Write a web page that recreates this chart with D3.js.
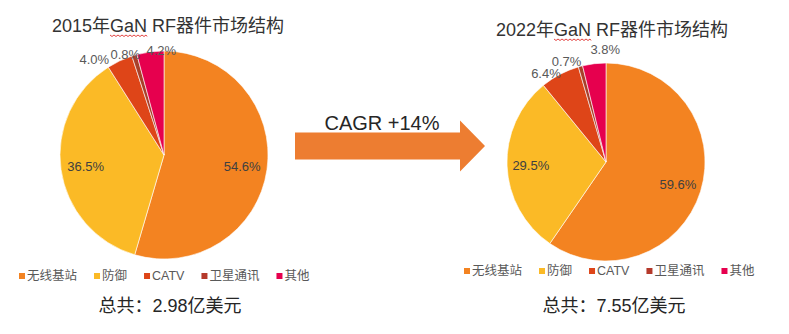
<!DOCTYPE html>
<html>
<head>
<meta charset="utf-8">
<script src="https://cdn.jsdelivr.net/npm/d3@7"></script>
<style>
  html, body { margin: 0; padding: 0; background: #fff; }
  svg { display: block; }
  text { font-family: "Liberation Sans", Arial, "Noto Sans CJK SC", sans-serif; }
</style>
</head>
<body>
<svg id="chart" width="789" height="334"></svg>
<script>
// ---- data ----
const categories = ["无线基站", "防御", "CATV", "卫星通讯", "其他"];
const values2015 = [54.6, 36.5, 4.0, 0.8, 4.2];
const values2022 = [59.6, 29.5, 6.4, 0.7, 3.8];
const titles = ["2015年GaN RF器件市场结构", "2022年GaN RF器件市场结构"];
const totals = ["总共：2.98亿美元", "总共：7.55亿美元"];
const cagrLabel = "CAGR +14%";

// ---- styles ----
const colors = ["#F38321", "#FBBA26", "#DE4518", "#A8402A", "#E6004E"];
const legendColors = ["#F38321", "#FBBA26", "#DE4518", "#B5392B", "#E6004E"];
const svg = d3.select("#chart");

const charts = [
  { values: values2015, cx: 164, cy: 155, r: 104, title: titles[0], titleX: 168, titleY: 32,
    legendX: 19, legendY: 280, total: totals[0], totalX: 170, totalY: 312, labelMode: "spread" },
  { values: values2022, cx: 606, cy: 162, r: 99, title: titles[1], titleX: 612, titleY: 36,
    legendX: 464, legendY: 275, total: totals[1], totalX: 614, totalY: 312, labelMode: "stack" }
];

const color = d3.scaleOrdinal().domain(categories).range(colors);
const legendColor = d3.scaleOrdinal().domain(categories).range(legendColors);
const pie = d3.pie().sort(null).value(d => d.value);

charts.forEach(c => {
  const data = categories.map((k, i) => ({ key: k, value: c.values[i] }));
  const arcs = pie(data);
  const arc = d3.arc().innerRadius(0).outerRadius(c.r);
  const g = svg.append("g").attr("transform", `translate(${c.cx},${c.cy})`);

  g.selectAll("path.slice").data(arcs).enter().append("path")
    .attr("class", "slice")
    .attr("d", arc)
    .attr("fill", d => color(d.data.key))
    .attr("stroke", "#fff")
    .attr("stroke-width", 0.6);

  // inside labels (large slices)
  const inArc = d3.arc().innerRadius(c.r * 0.76).outerRadius(c.r * 0.76);
  arcs.filter(d => d.data.value >= 10).forEach(d => {
    const [x, y] = inArc.centroid(d);
    g.append("text").attr("x", x).attr("y", y)
      .attr("text-anchor", "middle").attr("dominant-baseline", "central")
      .attr("font-size", 13).attr("fill", "#404040")
      .text(d.data.value.toFixed(1) + "%");
  });

  // outside labels (small slices)
  const small = arcs.filter(d => d.data.value < 10);
  const w = 30, h = 12;
  const pos = small.map(d => {
    const a = (d.startAngle + d.endAngle) / 2;
    return { d, x: Math.sin(a) * c.r, y: -Math.cos(a) * c.r - 1 };
  });
  const n = pos.length;
  if (c.labelMode === "spread") {
    // last one pushed right, earlier ones pushed left to avoid overlap
    pos[n - 1].x += 11;
    for (let j = n - 2; j >= 0; j--) {
      const p = pos[j], q = pos[j + 1];
      const gap = j === n - 2 ? 6 : 1;
      if (Math.abs(p.y - q.y) < h && p.x + w / 2 > q.x - w / 2 - gap) {
        p.x = q.x - w - gap;
      }
    }
  } else {
    // labels end at the slice edge (last starts there), stacked upward
    pos.forEach((p, j) => { p.x += j === n - 1 ? w / 2 - 4 : -w / 2 + 1; });
    for (let j = 1; j < n; j++) pos[j].y = Math.min(pos[j].y, pos[j - 1].y - h);
  }
  pos.forEach(p => {
    g.append("text").attr("x", p.x).attr("y", p.y)
      .attr("text-anchor", "middle").attr("dominant-baseline", "central")
      .attr("font-size", 13).attr("fill", "#595959")
      .text(p.d.data.value.toFixed(1) + "%");
  });

  // title with spell-check wave under GaN
  const t = svg.append("text").attr("x", c.titleX).attr("y", c.titleY)
    .attr("text-anchor", "middle").attr("font-size", 18).attr("fill", "#333")
    .text(c.title);
  const node = t.node();
  const gi = c.title.indexOf("GaN");
  const sx = node.getStartPositionOfChar(gi).x;
  const ex = node.getEndPositionOfChar(gi + 2).x;
  const wy = c.titleY + 3;
  let dStr = `M${sx},${wy}`;
  for (let xx = sx, k = 0; xx < ex; xx += 2, k++) {
    dStr += ` L${Math.min(xx + 2, ex)},${wy + (k % 2 === 0 ? 1.5 : 0)}`;
  }
  svg.append("path").attr("d", dStr).attr("fill", "none")
    .attr("stroke", "#E0302E").attr("stroke-width", 0.9);

  // legend
  const lg = svg.append("g").attr("transform", `translate(${c.legendX},${c.legendY})`);
  let lx = 0;
  categories.forEach(k => {
    lg.append("rect").attr("x", lx).attr("y", -7).attr("width", 6).attr("height", 6)
      .attr("fill", legendColor(k));
    const tt = lg.append("text").attr("x", lx + 8).attr("y", 0)
      .attr("font-size", 12.5).attr("fill", "#595959").text(k);
    lx += 8 + tt.node().getComputedTextLength() + 17;
  });

  // total
  svg.append("text").attr("x", c.totalX).attr("y", c.totalY)
    .attr("text-anchor", "middle").attr("font-size", 18).attr("fill", "#262626")
    .text(c.total);
});

// CAGR arrow
const ax0 = 295, ax1 = 460, axTip = 485, ay = 146, bodyH = 27, headH = 51;
svg.append("path")
  .attr("d", `M${ax0},${ay - bodyH / 2} L${ax1},${ay - bodyH / 2} L${ax1},${ay - headH / 2} L${axTip},${ay} L${ax1},${ay + headH / 2} L${ax1},${ay + bodyH / 2} L${ax0},${ay + bodyH / 2} Z`)
  .attr("fill", "#ED7D31");
svg.append("text").attr("x", 382).attr("y", 130).attr("text-anchor", "middle")
  .attr("font-size", 20).attr("fill", "#262626").text(cagrLabel);
</script>
</body>
</html>
